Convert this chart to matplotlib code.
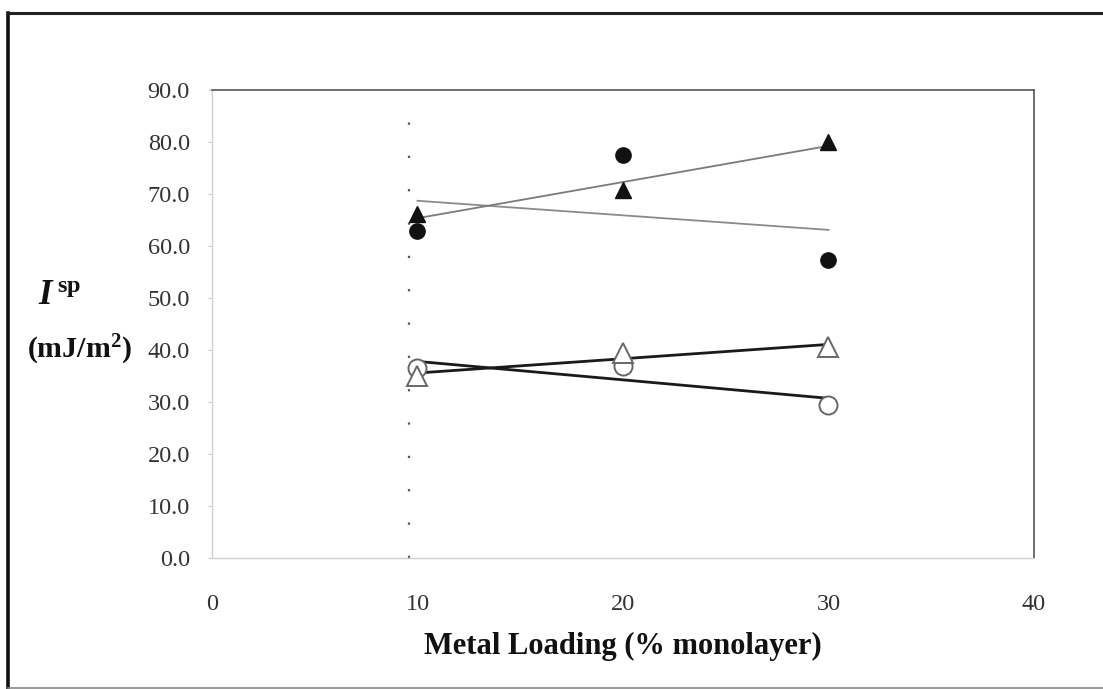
import numpy as np
from matplotlib import pyplot as plt
from matplotlib.lines import Line2D

plt.rcParams['font.family'] = ['Liberation Serif', 'DejaVu Serif']
plt.rcParams['mathtext.fontset'] = 'custom'
plt.rcParams['mathtext.rm'] = 'Liberation Serif:bold'
plt.rcParams['mathtext.bf'] = 'Liberation Serif:bold'
plt.rcParams['mathtext.it'] = 'Liberation Serif:italic:bold'

# Specific interaction (mJ/m2) vs metal loading
loading = [10, 20, 30]
filled_circle = [62.9, 77.5, 57.3]
filled_triangle = [66.1, 70.8, 80.0]
open_circle = [36.5, 36.9, 29.4]
open_triangle = [35.0, 39.5, 40.5]

x_ticks = [0, 10, 20, 30, 40]
y_ticks = np.arange(0, 90.1, 10)

fig = plt.figure(figsize=(11.03, 6.89), dpi=100)
ax = fig.add_axes([0.1922, 0.190, 0.7452, 0.6794])

x = np.array(loading)

def trend(vals, color, lw):
    k, b = np.polyfit(x, vals, 1)
    ax.plot(x, k * x + b, color=color, lw=lw, zorder=2)

trend(filled_circle, '#8a8a8a', 1.3)
trend(filled_triangle, '#7a7a7a', 1.3)
trend(open_circle, '#1a1a1a', 2.0)
trend(open_triangle, '#1a1a1a', 2.0)

ax.plot(x, filled_circle, 'o', ms=11, color='#111111', ls='none', zorder=3)
ax.plot(x, filled_triangle, '^', ms=12, color='#111111', ls='none', zorder=3)
ax.plot(x, open_circle, 'o', ms=13, mfc='white', mec='#666666', mew=1.4, ls='none', zorder=3)
ax.plot(x, open_triangle, '^', ms=14, mfc='white', mec='#666666', mew=1.4, ls='none', zorder=3)

# faint dotted guide near 10 %
ax.plot([9.6, 9.6], [0, 89], color='#555555', lw=1.6, ls=(0, (1, 14)), zorder=1)

ax.set_xlim(0, 40)
ax.set_ylim(0, 90)
ax.set_xticks(x_ticks)
ax.set_yticks(y_ticks)
ax.set_yticklabels(['%.1f' % v for v in y_ticks])
ax.tick_params(labelsize=17.5, labelcolor='#333333', length=3, width=0.8)
ax.tick_params(axis='x', pad=26, length=0)
ax.tick_params(axis='y', color='#cccccc', pad=13)

for s in ['top', 'right']:
    ax.spines[s].set_color('#555555')
    ax.spines[s].set_linewidth(1.2)
for s in ['left', 'bottom']:
    ax.spines[s].set_color('#d0d0d0')
    ax.spines[s].set_linewidth(1.0)

ax.set_xlabel('Metal Loading (% monolayer)', fontsize=22, fontweight='bold',
              labelpad=12, color='#111111')

fig.text(60 / 1103, 1 - 295 / 689, r'$\mathit{I}^{\,\mathrm{sp}}$', fontsize=25,
         ha='center', va='center', color='#111111')
fig.text(79 / 1103, 1 - 350 / 689, r'(mJ/m$^{\mathrm{2}}$)', fontsize=21.5,
         fontweight='bold', ha='center', va='center', color='#111111')

# outer frame
fig.add_artist(Line2D([8 / 1103, 8 / 1103], [1 - 13 / 689, 0], transform=fig.transFigure,
                      color='#111111', lw=2.6))
fig.add_artist(Line2D([8 / 1103, 1], [1 - 13 / 689, 1 - 13 / 689], transform=fig.transFigure,
                      color='#222222', lw=2.2))
fig.add_artist(Line2D([8 / 1103, 1], [1.5 / 689, 1.5 / 689], transform=fig.transFigure,
                      color='#888888', lw=1.2))

plt.savefig('out.png', dpi=100)
